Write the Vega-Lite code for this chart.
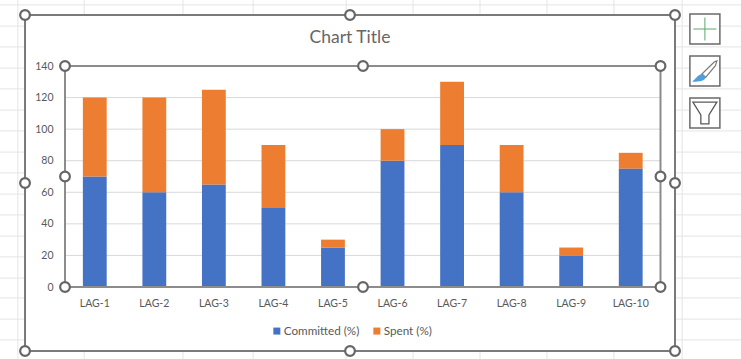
{
  "$schema": "https://vega.github.io/schema/vega-lite/v6.json",
  "width": 595.5,
  "height": 221,
  "padding": {"left": 65, "top": 66, "right": 80.5, "bottom": 72},
  "autosize": {"type": "none"},
  "background": "white",
  "datasets": {
    "lags": [
      {"lag": "LAG-1", "series": "Committed (%)", "pct": 70},
      {"lag": "LAG-1", "series": "Spent (%)", "pct": 50},
      {"lag": "LAG-2", "series": "Committed (%)", "pct": 60},
      {"lag": "LAG-2", "series": "Spent (%)", "pct": 60},
      {"lag": "LAG-3", "series": "Committed (%)", "pct": 65},
      {"lag": "LAG-3", "series": "Spent (%)", "pct": 60},
      {"lag": "LAG-4", "series": "Committed (%)", "pct": 50},
      {"lag": "LAG-4", "series": "Spent (%)", "pct": 40},
      {"lag": "LAG-5", "series": "Committed (%)", "pct": 25},
      {"lag": "LAG-5", "series": "Spent (%)", "pct": 5},
      {"lag": "LAG-6", "series": "Committed (%)", "pct": 80},
      {"lag": "LAG-6", "series": "Spent (%)", "pct": 20},
      {"lag": "LAG-7", "series": "Committed (%)", "pct": 90},
      {"lag": "LAG-7", "series": "Spent (%)", "pct": 40},
      {"lag": "LAG-8", "series": "Committed (%)", "pct": 60},
      {"lag": "LAG-8", "series": "Spent (%)", "pct": 30},
      {"lag": "LAG-9", "series": "Committed (%)", "pct": 20},
      {"lag": "LAG-9", "series": "Spent (%)", "pct": 5},
      {"lag": "LAG-10", "series": "Committed (%)", "pct": 75},
      {"lag": "LAG-10", "series": "Spent (%)", "pct": 10}
    ],
    "gridTicks": [
      {"tick": 20}, {"tick": 40}, {"tick": 60}, {"tick": 80},
      {"tick": 100}, {"tick": 120}, {"tick": 140}
    ],
    "sheetRows": [
      {"down": -0.03}, {"down": 0.033}, {"down": 0.095}, {"down": 0.158}, {"down": 0.22},
      {"down": 0.283}, {"down": 0.345}, {"down": 0.408}, {"down": 0.47}, {"down": 0.533},
      {"down": 0.595}, {"down": 0.658}, {"down": 0.72}, {"down": 0.783}, {"down": 0.842},
      {"down": 0.905}, {"down": 0.967}
    ],
    "sheetColumns": [
      {"across": -0.011}, {"across": 0.091}, {"across": 0.243}, {"across": 0.351}, {"across": 0.494},
      {"across": 0.597}, {"across": 0.7}, {"across": 0.803}, {"across": 0.906}, {"across": 1.011}
    ],
    "handles": [
      {"across": 0, "down": 0}, {"across": 0.5, "down": 0}, {"across": 1, "down": 0},
      {"across": 0, "down": 0.5}, {"across": 1, "down": 0.5},
      {"across": 0, "down": 1}, {"across": 0.5, "down": 1}, {"across": 1, "down": 1},
      {"across": 0.0615, "down": 0.1518}, {"across": 0.52, "down": 0.1518}, {"across": 0.9777, "down": 0.1518},
      {"across": 0.0615, "down": 0.4807}, {"across": 0.9777, "down": 0.4807},
      {"across": 0.0615, "down": 0.8095}, {"across": 0.52, "down": 0.8095}, {"across": 0.9777, "down": 0.8095}
    ]
  },
  "resolve": {
    "scale": {"x": "independent", "y": "independent"},
    "axis": {"x": "independent", "y": "independent"}
  },
  "layer": [
    {
      "data": {"name": "sheetRows"},
      "mark": {"type": "rule", "color": "#e4e4e4", "strokeWidth": 1},
      "encoding": {
        "x": {"datum": -0.05, "type": "quantitative", "axis": null, "scale": {"domain": [0.0615, 0.9777], "nice": false, "zero": false}},
        "x2": {"datum": 1.12},
        "y": {"field": "down", "type": "quantitative", "axis": null, "scale": {"domain": [0.1518, 0.8095], "reverse": true, "nice": false, "zero": false}}
      }
    },
    {
      "data": {"name": "sheetColumns"},
      "mark": {"type": "rule", "color": "#e4e4e4", "strokeWidth": 1},
      "encoding": {
        "x": {"field": "across", "type": "quantitative", "axis": null, "scale": {"domain": [0.0615, 0.9777], "nice": false, "zero": false}},
        "y": {"datum": -0.06, "type": "quantitative", "axis": null, "scale": {"domain": [0.1518, 0.8095], "reverse": true, "nice": false, "zero": false}},
        "y2": {"datum": 1.04}
      }
    },
    {
      "data": {"values": [{"left": 0, "right": 1, "top": 0, "bottom": 1}]},
      "mark": {"type": "rect", "fill": "white", "stroke": "#7a7a7a", "strokeWidth": 2},
      "encoding": {
        "x": {"field": "left", "type": "quantitative", "axis": null, "scale": {"domain": [0.0615, 0.9777], "nice": false, "zero": false}},
        "x2": {"field": "right"},
        "y": {"field": "top", "type": "quantitative", "axis": null, "scale": {"domain": [0.1518, 0.8095], "reverse": true, "nice": false, "zero": false}},
        "y2": {"field": "bottom"}
      }
    },
    {
      "data": {"values": [{"across": 0.5, "down": 0.0685, "label": "Chart Title"}]},
      "mark": {"type": "text", "font": "Lato", "fontSize": 17.5, "color": "#666666", "align": "center", "baseline": "middle"},
      "encoding": {
        "x": {"field": "across", "type": "quantitative", "axis": null, "scale": {"domain": [0.0615, 0.9777], "nice": false, "zero": false}},
        "y": {"field": "down", "type": "quantitative", "axis": null, "scale": {"domain": [0.1518, 0.8095], "reverse": true, "nice": false, "zero": false}},
        "text": {"field": "label", "type": "nominal"}
      }
    },
    {
      "data": {"name": "gridTicks"},
      "mark": {"type": "rule", "color": "#d9d9d9", "strokeWidth": 1},
      "encoding": {
        "y": {"field": "tick", "type": "quantitative", "axis": null, "scale": {"domain": [0, 140], "nice": false}}
      }
    },
    {
      "data": {"name": "lags"},
      "mark": {"type": "bar"},
      "encoding": {
        "x": {
          "field": "lag",
          "type": "nominal",
          "sort": null,
          "title": null,
          "scale": {"paddingInner": 0.6, "paddingOuter": 0.3},
          "axis": {
            "zindex": 1,
            "domain": false,
            "ticks": false,
            "labelAngle": 0,
            "labelFont": "Lato",
            "labelFontSize": 10.5,
            "labelColor": "#595959",
            "labelPadding": 11
          }
        },
        "y": {
          "field": "pct",
          "type": "quantitative",
          "stack": "zero",
          "title": null,
          "scale": {"domain": [0, 140], "nice": false},
          "axis": {
            "zindex": 1,
            "domain": false,
            "ticks": false,
            "grid": false,
            "values": [0, 20, 40, 60, 80, 100, 120, 140],
            "labelFont": "Lato",
            "labelFontSize": 10.5,
            "labelColor": "#595959",
            "labelPadding": 12
          }
        },
        "color": {
          "field": "series",
          "type": "nominal",
          "scale": {"domain": ["Committed (%)", "Spent (%)"], "range": ["#4472c4", "#ed7d31"]},
          "legend": {
            "orient": "none",
            "legendX": 206,
            "legendY": 259,
            "direction": "horizontal",
            "title": null,
            "symbolType": "square",
            "symbolSize": 49,
            "symbolStrokeWidth": 0,
            "labelFont": "Lato",
            "labelFontSize": 11.7,
            "labelColor": "#595959",
            "labelOffset": 1,
            "columnPadding": 11,
            "padding": 0
          }
        },
        "order": {"field": "series", "sort": "ascending"}
      }
    },
    {
      "data": {"values": [{"left": 0.0615, "right": 0.9777, "top": 0.1518, "bottom": 0.8095}]},
      "mark": {"type": "rect", "fill": null, "stroke": "#8c8c8c", "strokeWidth": 2},
      "encoding": {
        "x": {"field": "left", "type": "quantitative", "axis": null, "scale": {"domain": [0.0615, 0.9777], "nice": false, "zero": false}},
        "x2": {"field": "right"},
        "y": {"field": "top", "type": "quantitative", "axis": null, "scale": {"domain": [0.1518, 0.8095], "reverse": true, "nice": false, "zero": false}},
        "y2": {"field": "bottom"}
      }
    },
    {
      "data": {"name": "handles"},
      "mark": {"type": "point", "shape": "circle", "filled": true, "fill": "white", "stroke": "#666666", "strokeWidth": 2.2, "size": 95, "opacity": 1},
      "encoding": {
        "x": {"field": "across", "type": "quantitative", "axis": null, "scale": {"domain": [0.0615, 0.9777], "nice": false, "zero": false}},
        "y": {"field": "down", "type": "quantitative", "axis": null, "scale": {"domain": [0.1518, 0.8095], "reverse": true, "nice": false, "zero": false}}
      }
    },
    {
      "data": {"values": [{"across": 1.046, "down": 0.0417}, {"across": 1.046, "down": 0.1667}, {"across": 1.046, "down": 0.2917}]},
      "mark": {"type": "point", "shape": "square", "filled": true, "fill": "white", "stroke": "#6a6a6a", "strokeWidth": 1.5, "size": 900, "opacity": 1},
      "encoding": {
        "x": {"field": "across", "type": "quantitative", "axis": null, "scale": {"domain": [0.0615, 0.9777], "nice": false, "zero": false}},
        "y": {"field": "down", "type": "quantitative", "axis": null, "scale": {"domain": [0.1518, 0.8095], "reverse": true, "nice": false, "zero": false}}
      }
    },
    {
      "data": {"values": [{"across": 1.046, "down": 0.0417}]},
      "mark": {"type": "point", "shape": "M0,-1L0,1M-1,0L1,0", "filled": false, "stroke": "#5aa86c", "strokeWidth": 1, "size": 529, "opacity": 1},
      "encoding": {
        "x": {"field": "across", "type": "quantitative", "axis": null, "scale": {"domain": [0.0615, 0.9777], "nice": false, "zero": false}},
        "y": {"field": "down", "type": "quantitative", "axis": null, "scale": {"domain": [0.1518, 0.8095], "reverse": true, "nice": false, "zero": false}}
      }
    },
    {
      "data": {"values": [{"across": 1.046, "down": 0.1667}]},
      "mark": {"type": "point", "shape": "M0.8,-0.68L0.62,-0.6L-0.2,0.2L0.05,0.42L0.7,-0.35Z", "filled": true, "fill": "white", "stroke": "#7a7a7a", "strokeWidth": 1.2, "size": 900, "opacity": 1},
      "encoding": {
        "x": {"field": "across", "type": "quantitative", "axis": null, "scale": {"domain": [0.0615, 0.9777], "nice": false, "zero": false}},
        "y": {"field": "down", "type": "quantitative", "axis": null, "scale": {"domain": [0.1518, 0.8095], "reverse": true, "nice": false, "zero": false}}
      }
    },
    {
      "data": {"values": [{"across": 1.046, "down": 0.1667}]},
      "mark": {"type": "point", "shape": "M-0.2,0.2L0.05,0.42C0,0.65,-0.35,0.75,-0.85,0.7C-0.6,0.55,-0.5,0.25,-0.2,0.2Z", "filled": true, "fill": "#4f9fe0", "size": 900, "opacity": 1},
      "encoding": {
        "x": {"field": "across", "type": "quantitative", "axis": null, "scale": {"domain": [0.0615, 0.9777], "nice": false, "zero": false}},
        "y": {"field": "down", "type": "quantitative", "axis": null, "scale": {"domain": [0.1518, 0.8095], "reverse": true, "nice": false, "zero": false}}
      }
    },
    {
      "data": {"values": [{"across": 1.046, "down": 0.2917}]},
      "mark": {"type": "point", "shape": "M-0.8,-0.73L0.8,-0.73L0.27,0.13L0.27,0.73L-0.27,0.73L-0.27,0.13Z", "filled": true, "fill": "white", "stroke": "#5a5a5a", "strokeWidth": 1.3, "size": 900, "opacity": 1},
      "encoding": {
        "x": {"field": "across", "type": "quantitative", "axis": null, "scale": {"domain": [0.0615, 0.9777], "nice": false, "zero": false}},
        "y": {"field": "down", "type": "quantitative", "axis": null, "scale": {"domain": [0.1518, 0.8095], "reverse": true, "nice": false, "zero": false}}
      }
    }
  ],
  "config": {"view": {"stroke": null}}
}
